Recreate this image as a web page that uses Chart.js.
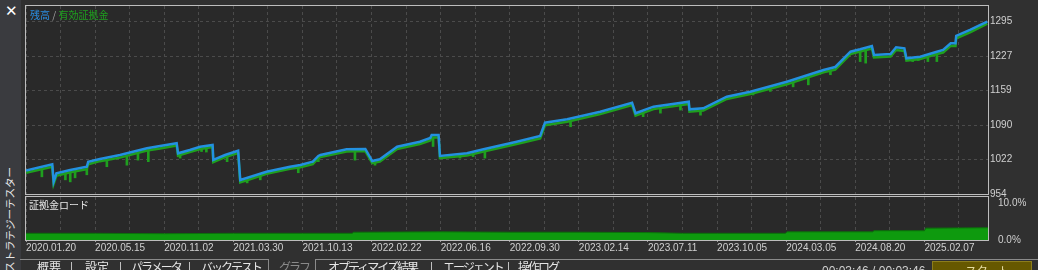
<!DOCTYPE html>
<html>
<head>
<meta charset="utf-8">
<script src="https://cdn.jsdelivr.net/npm/chart.js@4/dist/chart.umd.min.js"></script>
<style>
html, body { margin: 0; padding: 0; background: #303030; overflow: hidden; }
body { width: 1038px; height: 270px; position: relative; font-family: "Liberation Sans", Arial, sans-serif; }
#side { position: absolute; left: 0; top: 0; width: 21px; height: 270px; background: #3a3b3f; }
#close { position: absolute; left: 5px; top: 2px; color: #fff; font: bold 15px "DejaVu Sans", sans-serif; }
#vtitle { position: absolute; left: 2px; top: 272px; transform-origin: 0 0; transform: rotate(-90deg);
  white-space: nowrap; color: #e6e6e6; font: 10.5px/16px "Noto Sans CJK JP", sans-serif; }
canvas { position: absolute; left: 0; }
#main { top: 0; }
#load { top: 196px; }
.lbl { position: absolute; white-space: nowrap; font-family: "Noto Sans CJK JP", sans-serif; }
#legend { left: 30px; top: 8px; font-size: 10px; line-height: 13px; }
#loadTitle { left: 29px; top: 199px; font-size: 10px; line-height: 12px; color: #e8e8e8; }
.tab { position: absolute; top: 260px; font: 12px/13px "Noto Sans CJK JP", sans-serif; color: #e6e6e6; white-space: nowrap; }
.kana { letter-spacing: -2px; }
.line { position: absolute; background: #8a8a8a; }
#time { position: absolute; left: 822px; top: 265px; font: 12px/13px "Liberation Sans", sans-serif; color: #d0d0d0; }
#start { position: absolute; left: 932px; top: 261px; width: 100px; height: 12px; background: #665800;
  border: 1px solid #8c7d1c; box-sizing: border-box; }
#start span { position: absolute; left: 32px; top: 2px; font: 12px/13px "Noto Sans CJK JP", sans-serif; color: #e6dca0; letter-spacing: -1px; }
</style>
</head>
<body>
<div id="side"></div>
<div id="close">✕</div>
<div id="vtitle">ストラテジーテスター</div>

<canvas id="main" width="1038" height="200"></canvas>
<canvas id="load" width="1038" height="62"></canvas>

<div class="lbl" id="legend"><span style="color:#2a8ce0">残高</span> <span style="color:#a0a0a0">/</span> <span style="color:#1ea01e">有効証拠金</span></div>
<div class="lbl" id="loadTitle">証拠金ロード</div>

<div class="line" style="left:20px;top:259px;width:248px;height:1px"></div>
<div class="line" style="left:268px;top:259px;width:1px;height:11px"></div>
<div class="line" style="left:315px;top:259px;width:723px;height:1px"></div>
<div class="line" style="left:315px;top:259px;width:1px;height:11px"></div>
<div class="tab" style="left:37px">概要</div>
<div class="tab" style="left:70px">|</div>
<div class="tab" style="left:85px">設定</div>
<div class="tab" style="left:119px">|</div>
<div class="tab kana" style="left:131px">パラメータ</div>
<div class="tab" style="left:188px">|</div>
<div class="tab kana" style="left:201px">バックテスト</div>
<div class="tab kana" style="left:279px;color:#8a8a8a">グラフ</div>
<div class="tab kana" style="left:328px">オプティマイズ結果</div>
<div class="tab" style="left:430px">|</div>
<div class="tab kana" style="left:443px">エージェント</div>
<div class="tab" style="left:507px">|</div>
<div class="tab kana" style="left:518px">操作ログ</div>
<div id="time">00:03:46 / 00:03:46</div>
<div id="start"><span>スタート</span></div>

<script>
// trade number on the x axis, balance / equity
const trades = [0, 38, 40, 44, 64, 88, 90, 107, 136, 175, 194, 218, 220, 237, 252, 270, 271, 288, 307, 310,
  324, 348, 382, 397, 415, 423, 426, 464, 491, 501, 512, 537, 570, 585, 587, 597, 599, 638, 662, 710,
  744, 751, 783, 831, 877, 882, 908, 959, 960, 980, 1014, 1048, 1101, 1154, 1171, 1193, 1207, 1224, 1227, 1251,
  1259, 1271, 1274, 1294, 1318, 1327, 1338, 1345, 1346, 1366, 1381, 1391];
const balance = [1000.5, 1012.8, 978.3, 995.0, 1001.5, 1008.0, 1017.9, 1023.3, 1031.2, 1044.4, 1049.0, 1054.3, 1034.5, 1041.1, 1047.6, 1051.0, 1021.3, 1031.2, 1039.7, 981.7,
  987.6, 998.1, 1008.0, 1011.4, 1017.9, 1029.2, 1031.2, 1042.5, 1043.1, 1019.3, 1022.7, 1047.6, 1057.5, 1064.8, 1070.8, 1070.8, 1029.2, 1034.5, 1042.5, 1057.5,
  1068.8, 1095.1, 1101.8, 1116.9, 1134.7, 1113.7, 1126.8, 1136.7, 1121.6, 1123.6, 1146.6, 1156.5, 1176.2, 1199.4, 1205.3, 1235.6, 1240.4, 1246.9, 1229.1, 1231.1,
  1244.3, 1242.3, 1222.6, 1225.7, 1235.6, 1239.0, 1252.2, 1252.2, 1266.7, 1278.6, 1288.5, 1295.0];
const equity = [996, 1008, 974, 990, 997, 1003, 1013, 1019, 1026, 1040, 1044, 1050, 1030, 1037, 1043, 1047, 1017, 1027, 1035, 977,
  983, 994, 1004, 1007, 1013, 1025, 1027, 1038, 1039, 1015, 1018, 1043, 1053, 1060, 1066, 1066, 1025, 1030, 1038, 1053,
  1064, 1090, 1097, 1112, 1130, 1109, 1122, 1132, 1117, 1119, 1142, 1152, 1171, 1195, 1200, 1231, 1236, 1242, 1224, 1226,
  1239, 1237, 1218, 1221, 1231, 1234, 1247, 1247, 1262, 1274, 1284, 1291];

// equity drawdown spikes: trade number and lowest equity
const spikeTrades = [23, 57, 64, 71, 88, 117, 146, 162, 177, 223, 254, 261, 291, 320, 339, 394, 423, 476, 505, 589,
  628, 647, 664, 788, 893, 918, 947, 976, 1052, 1077, 1110, 1132, 1164, 1207, 1215, 1283, 1291, 1305, 1318];
const spikeLows = [988, 982, 978, 986, 992, 1008, 1011, 1021, 1018, 1025, 1038, 1037, 1018, 976, 982, 996, 1018, 1021, 1011, 1048,
  1025, 1028, 1025, 1087, 1107, 1114, 1120, 1110, 1150, 1157, 1166, 1170, 1190, 1216, 1213, 1216, 1218, 1216, 1216];

// margin load, percent
const loadTrades = [0, 100, 200, 300, 400, 472, 474, 600, 700, 800, 900, 950, 1099, 1101, 1225, 1227, 1300, 1302, 1392];
const loadPct = [1.8, 1.8, 1.7, 1.8, 1.8, 1.8, 2.1, 2.2, 2.1, 2.1, 2.0, 1.8, 1.8, 2.2, 2.2, 2.5, 2.5, 3.2, 3.3];

const xTickLabels = ['2020.01.20', '2020.05.15', '2020.11.02', '2021.03.30', '2021.10.13', '2022.02.22', '2022.06.16',
  '2022.09.30', '2023.02.14', '2023.07.11', '2023.10.05', '2024.03.05', '2024.08.20', '2025.02.07'];
const yTickValues = [954, 1022, 1090, 1159, 1227, 1295];
const loadTickValues = [0, 10];

const xMax = 1392, gridStep = 50, labelStep = 100;
const gridValues = [];
for (let v = 0; v < xMax; v += gridStep) gridValues.push(v);

const gridColor = '#4b4b4b';
const textColor = '#d0d0d0';
const tickFont = { family: 'Liberation Sans', size: 10 };

function equityAt(t) {
  for (let i = 1; i < trades.length; i++) {
    if (t <= trades[i]) {
      const f = (t - trades[i - 1]) / (trades[i] - trades[i - 1]);
      return equity[i - 1] + f * (equity[i] - equity[i - 1]);
    }
  }
  return equity[equity.length - 1];
}

const framePlugin = {
  id: 'frame',
  beforeDraw(chart) {
    const a = chart.chartArea, ctx = chart.ctx;
    ctx.save();
    ctx.fillStyle = '#292929';
    ctx.fillRect(a.left, a.top, a.right - a.left, a.bottom - a.top);
    ctx.restore();
  },
  afterDraw(chart) {
    const a = chart.chartArea, ctx = chart.ctx;
    ctx.save();
    ctx.strokeStyle = '#bdbdbd';
    ctx.lineWidth = 1;
    ctx.strokeRect(a.left - 0.5, a.top - 0.5, a.right - a.left + 1, a.bottom - a.top + 1);
    ctx.restore();
  }
};

// right axis: fixed width, no extra room for half labels
function fitRight(s) {
  s.width = 50;
  s.paddingTop = 0;
  s.paddingBottom = 0;
}

function xScale(showLabels) {
  return {
    type: 'linear', min: 0, max: xMax, offset: false,
    afterBuildTicks: s => { s.ticks = gridValues.map(v => ({ value: v })); },
    afterFit: s => { s.height = showLabels ? 18 : 6; s.paddingLeft = 0; s.paddingRight = 0; },
    ticks: {
      display: showLabels, align: 'start', padding: 0, color: textColor, font: tickFont,
      maxRotation: 0, autoSkip: false,
      callback: v => (v % labelStep === 0 ? xTickLabels[v / labelStep] : '')
    },
    grid: {
      color: gridColor, offset: false, drawTicks: showLabels, tickLength: 2,
      tickColor: c => (c.tick && c.tick.value % labelStep === 0 ? '#9a9a9a' : 'transparent')
    },
    border: { display: false, dash: [3, 3] }
  };
}

new Chart(document.getElementById('main'), {
  type: 'line',
  data: {
    datasets: [
      {
        label: '残高',
        data: trades.map((t, i) => ({ x: t, y: balance[i] })),
        borderColor: '#2391e0', borderWidth: 2.5, pointRadius: 0, tension: 0, order: 0
      },
      {
        label: '有効証拠金',
        data: trades.map((t, i) => ({ x: t, y: equity[i] })),
        borderColor: '#1f9f1f', borderWidth: 2.5, pointRadius: 0, tension: 0, order: 1
      },
      {
        type: 'bar',
        label: 'drawdown',
        data: spikeTrades.map((t, i) => ({ x: t, y: [spikeLows[i], equityAt(t)] })),
        backgroundColor: '#1f9f1f', barThickness: 2, order: 2
      }
    ]
  },
  options: {
    responsive: false, animation: false, devicePixelRatio: 1,
    layout: { padding: { left: 26, top: 6, right: 0, bottom: 0 } },
    plugins: { legend: { display: false }, tooltip: { enabled: false } },
    scales: {
      x: xScale(false),
      y: {
        position: 'right', min: 954, max: 1326,
        afterBuildTicks: s => { s.ticks = yTickValues.map(v => ({ value: v })); },
        afterFit: fitRight,
        ticks: { color: textColor, font: tickFont, padding: 2, callback: v => String(v) },
        grid: { color: gridColor, drawTicks: false },
        border: { display: false, dash: [3, 3] }
      }
    }
  },
  plugins: [framePlugin]
});

new Chart(document.getElementById('load'), {
  type: 'line',
  data: {
    datasets: [{
      label: '証拠金ロード',
      data: loadTrades.map((t, i) => ({ x: t, y: loadPct[i] })),
      borderColor: '#0b700b', borderWidth: 1, backgroundColor: '#0e9a0e',
      fill: 'origin', pointRadius: 0, tension: 0
    }]
  },
  options: {
    responsive: false, animation: false, devicePixelRatio: 1,
    layout: { padding: { left: 26, top: 1, right: 0, bottom: 0 } },
    plugins: { legend: { display: false }, tooltip: { enabled: false } },
    scales: {
      x: xScale(true),
      y: {
        position: 'right', min: 0, max: 11.6,
        afterBuildTicks: s => { s.ticks = loadTickValues.map(v => ({ value: v })); },
        afterFit: fitRight,
        ticks: { color: textColor, font: tickFont, padding: 2, callback: v => v.toFixed(1) + '%' },
        grid: { display: false },
        border: { display: false }
      }
    }
  },
  plugins: [framePlugin]
});
</script>
</body>
</html>
